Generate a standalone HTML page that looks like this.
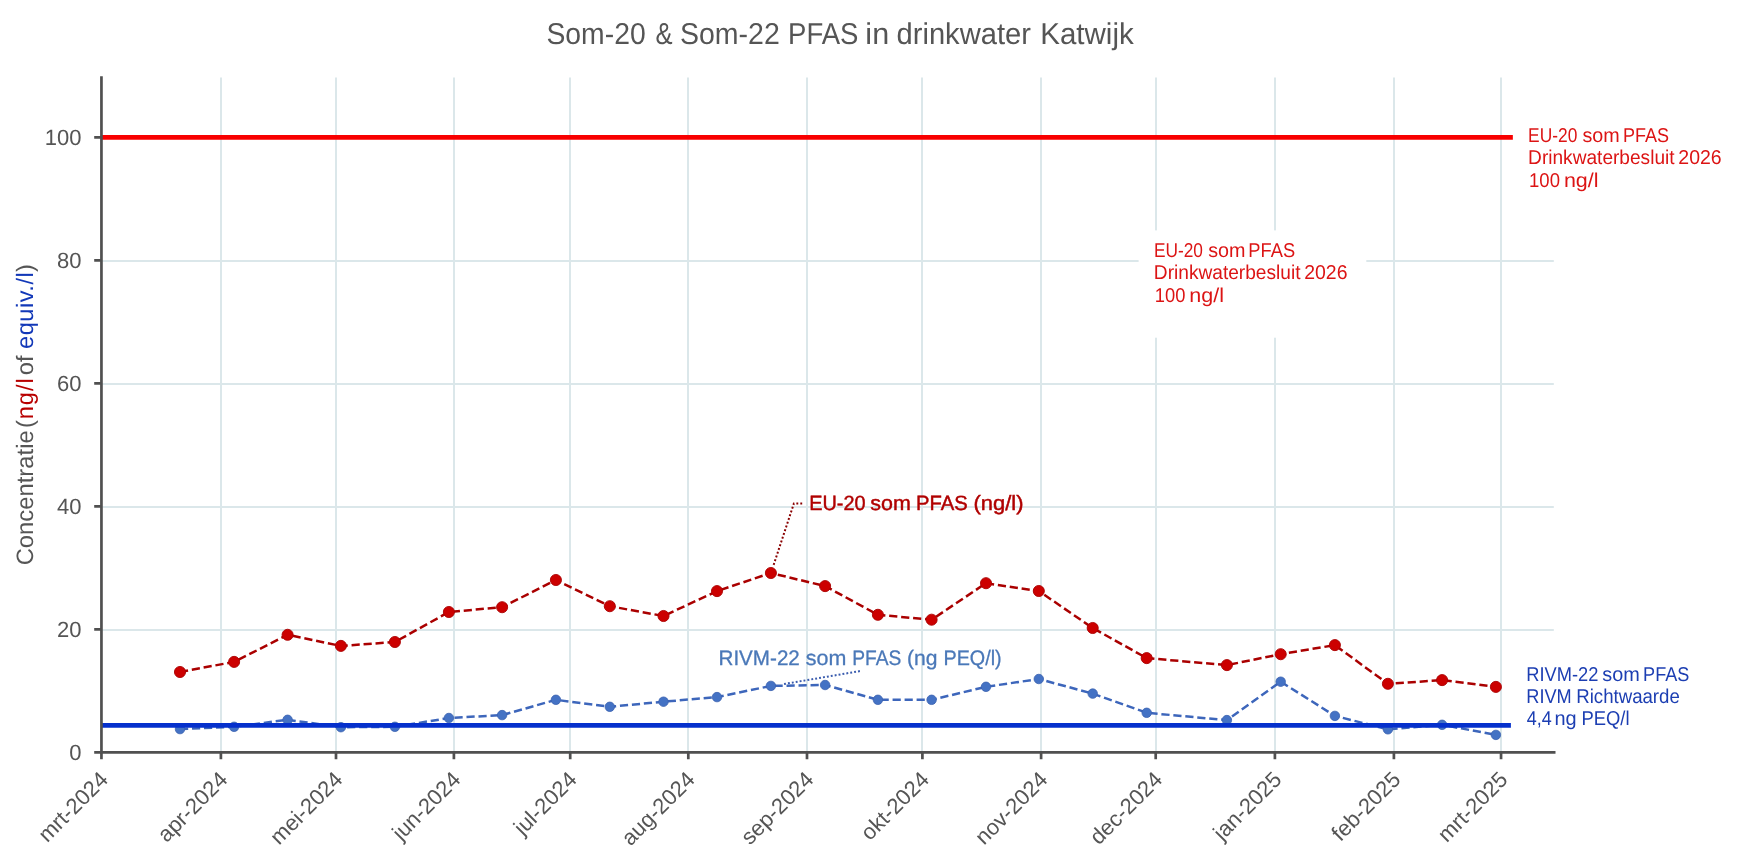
<!DOCTYPE html><html><head><meta charset="utf-8"><title>Som-20 &amp; Som-22 PFAS in drinkwater Katwijk</title>
<style>html,body{margin:0;padding:0;background:#fff;width:1740px;height:863px;overflow:hidden}svg{display:block;will-change:transform}text{font-family:"Liberation Sans", Arial, sans-serif;text-rendering:geometricPrecision}</style></head><body>
<svg width="1740" height="863" viewBox="0 0 1740 863">
<rect width="1740" height="863" fill="#fff"/>
<path d="M221 77.4V752 M336 77.4V752 M454 77.4V752 M570 77.4V752 M688 77.4V752 M807 77.4V752 M922 77.4V752 M1041 77.4V752 M1156 77.4V752 M1275 77.4V752 M1394 77.4V752 M1501 77.4V752 M101 630H1553.8 M101 507H1553.8 M101 384H1553.8 M101 261H1553.8" stroke="#dbe7ea" stroke-width="2" fill="none"/>
<rect x="1138.6" y="230.4" width="227.7" height="107.3" fill="#fff"/>
<path d="M101 137.4H1512.85" stroke="#f80000" stroke-width="4.75"/>
<polyline points="180.0,729.1 234.1,726.8 287.6,719.8 340.9,727.2 394.9,726.8 448.9,718.0 502.1,715.1 555.9,699.8 609.8,706.8 663.5,701.7 717.0,697.1 770.9,685.9 825.1,685.0 877.9,699.8 931.6,699.8 986.0,686.8 1038.8,679.0 1092.7,693.6 1146.7,712.8 1226.9,720.1 1280.7,681.7 1334.9,715.9 1387.9,729.3 1442.1,724.8 1495.9,734.9" fill="none" stroke="#3d66bb" stroke-width="2.5" stroke-dasharray="8.2,3.81"/>
<circle cx="180.0" cy="729.1" r="4.75" fill="#4472c4" stroke="#3b62b0" stroke-width="0.8"/>
<circle cx="234.1" cy="726.8" r="4.75" fill="#4472c4" stroke="#3b62b0" stroke-width="0.8"/>
<circle cx="287.6" cy="719.8" r="4.75" fill="#4472c4" stroke="#3b62b0" stroke-width="0.8"/>
<circle cx="340.9" cy="727.2" r="4.75" fill="#4472c4" stroke="#3b62b0" stroke-width="0.8"/>
<circle cx="394.9" cy="726.8" r="4.75" fill="#4472c4" stroke="#3b62b0" stroke-width="0.8"/>
<circle cx="448.9" cy="718.0" r="4.75" fill="#4472c4" stroke="#3b62b0" stroke-width="0.8"/>
<circle cx="502.1" cy="715.1" r="4.75" fill="#4472c4" stroke="#3b62b0" stroke-width="0.8"/>
<circle cx="555.9" cy="699.8" r="4.75" fill="#4472c4" stroke="#3b62b0" stroke-width="0.8"/>
<circle cx="609.8" cy="706.8" r="4.75" fill="#4472c4" stroke="#3b62b0" stroke-width="0.8"/>
<circle cx="663.5" cy="701.7" r="4.75" fill="#4472c4" stroke="#3b62b0" stroke-width="0.8"/>
<circle cx="717.0" cy="697.1" r="4.75" fill="#4472c4" stroke="#3b62b0" stroke-width="0.8"/>
<circle cx="770.9" cy="685.9" r="4.75" fill="#4472c4" stroke="#3b62b0" stroke-width="0.8"/>
<circle cx="825.1" cy="685.0" r="4.75" fill="#4472c4" stroke="#3b62b0" stroke-width="0.8"/>
<circle cx="877.9" cy="699.8" r="4.75" fill="#4472c4" stroke="#3b62b0" stroke-width="0.8"/>
<circle cx="931.6" cy="699.8" r="4.75" fill="#4472c4" stroke="#3b62b0" stroke-width="0.8"/>
<circle cx="986.0" cy="686.8" r="4.75" fill="#4472c4" stroke="#3b62b0" stroke-width="0.8"/>
<circle cx="1038.8" cy="679.0" r="4.75" fill="#4472c4" stroke="#3b62b0" stroke-width="0.8"/>
<circle cx="1092.7" cy="693.6" r="4.75" fill="#4472c4" stroke="#3b62b0" stroke-width="0.8"/>
<circle cx="1146.7" cy="712.8" r="4.75" fill="#4472c4" stroke="#3b62b0" stroke-width="0.8"/>
<circle cx="1226.9" cy="720.1" r="4.75" fill="#4472c4" stroke="#3b62b0" stroke-width="0.8"/>
<circle cx="1280.7" cy="681.7" r="4.75" fill="#4472c4" stroke="#3b62b0" stroke-width="0.8"/>
<circle cx="1334.9" cy="715.9" r="4.75" fill="#4472c4" stroke="#3b62b0" stroke-width="0.8"/>
<circle cx="1387.9" cy="729.3" r="4.75" fill="#4472c4" stroke="#3b62b0" stroke-width="0.8"/>
<circle cx="1442.1" cy="724.8" r="4.75" fill="#4472c4" stroke="#3b62b0" stroke-width="0.8"/>
<circle cx="1495.9" cy="734.9" r="4.75" fill="#4472c4" stroke="#3b62b0" stroke-width="0.8"/>
<path d="M101 725.3H1510.9" stroke="#0530cc" stroke-width="4.7"/>
<polyline points="180.0,672.0 234.1,661.9 287.6,634.8 340.9,645.9 394.9,642.0 448.9,612.0 502.1,607.2 555.9,580.0 609.8,606.2 663.5,616.0 717.0,591.1 770.9,573.0 825.1,586.1 877.9,614.8 931.6,619.7 986.0,583.2 1038.8,591.0 1092.7,628.0 1146.7,658.1 1226.9,665.1 1280.7,654.2 1334.9,645.1 1387.9,683.8 1442.1,680.1 1495.9,686.9" fill="none" stroke="#aa0000" stroke-width="2.5" stroke-dasharray="8.2,3.81"/>
<circle cx="180.0" cy="672.0" r="5.55" fill="#cc0000" stroke="#aa0000" stroke-width="0.9"/>
<circle cx="234.1" cy="661.9" r="5.55" fill="#cc0000" stroke="#aa0000" stroke-width="0.9"/>
<circle cx="287.6" cy="634.8" r="5.55" fill="#cc0000" stroke="#aa0000" stroke-width="0.9"/>
<circle cx="340.9" cy="645.9" r="5.55" fill="#cc0000" stroke="#aa0000" stroke-width="0.9"/>
<circle cx="394.9" cy="642.0" r="5.55" fill="#cc0000" stroke="#aa0000" stroke-width="0.9"/>
<circle cx="448.9" cy="612.0" r="5.55" fill="#cc0000" stroke="#aa0000" stroke-width="0.9"/>
<circle cx="502.1" cy="607.2" r="5.55" fill="#cc0000" stroke="#aa0000" stroke-width="0.9"/>
<circle cx="555.9" cy="580.0" r="5.55" fill="#cc0000" stroke="#aa0000" stroke-width="0.9"/>
<circle cx="609.8" cy="606.2" r="5.55" fill="#cc0000" stroke="#aa0000" stroke-width="0.9"/>
<circle cx="663.5" cy="616.0" r="5.55" fill="#cc0000" stroke="#aa0000" stroke-width="0.9"/>
<circle cx="717.0" cy="591.1" r="5.55" fill="#cc0000" stroke="#aa0000" stroke-width="0.9"/>
<circle cx="770.9" cy="573.0" r="5.55" fill="#cc0000" stroke="#aa0000" stroke-width="0.9"/>
<circle cx="825.1" cy="586.1" r="5.55" fill="#cc0000" stroke="#aa0000" stroke-width="0.9"/>
<circle cx="877.9" cy="614.8" r="5.55" fill="#cc0000" stroke="#aa0000" stroke-width="0.9"/>
<circle cx="931.6" cy="619.7" r="5.55" fill="#cc0000" stroke="#aa0000" stroke-width="0.9"/>
<circle cx="986.0" cy="583.2" r="5.55" fill="#cc0000" stroke="#aa0000" stroke-width="0.9"/>
<circle cx="1038.8" cy="591.0" r="5.55" fill="#cc0000" stroke="#aa0000" stroke-width="0.9"/>
<circle cx="1092.7" cy="628.0" r="5.55" fill="#cc0000" stroke="#aa0000" stroke-width="0.9"/>
<circle cx="1146.7" cy="658.1" r="5.55" fill="#cc0000" stroke="#aa0000" stroke-width="0.9"/>
<circle cx="1226.9" cy="665.1" r="5.55" fill="#cc0000" stroke="#aa0000" stroke-width="0.9"/>
<circle cx="1280.7" cy="654.2" r="5.55" fill="#cc0000" stroke="#aa0000" stroke-width="0.9"/>
<circle cx="1334.9" cy="645.1" r="5.55" fill="#cc0000" stroke="#aa0000" stroke-width="0.9"/>
<circle cx="1387.9" cy="683.8" r="5.55" fill="#cc0000" stroke="#aa0000" stroke-width="0.9"/>
<circle cx="1442.1" cy="680.1" r="5.55" fill="#cc0000" stroke="#aa0000" stroke-width="0.9"/>
<circle cx="1495.9" cy="686.9" r="5.55" fill="#cc0000" stroke="#aa0000" stroke-width="0.9"/>
<path d="M802.2 503.4H793.9L773.5 565.3" stroke="#8a0000" stroke-width="2" stroke-dasharray="1.9,2.05" fill="none"/>
<path d="M859.9 671.1L783.0 684.2" stroke="#3a5cae" stroke-width="2" stroke-dasharray="1.9,2.05" fill="none"/>
<path d="M101.45 76.3V753.8M100 752.45H1555.5" stroke="#505050" stroke-width="2.7" fill="none"/>
<path d="M94.2 752.45H101 M94.2 629.44H101 M94.2 506.43H101 M94.2 383.42H101 M94.2 260.41H101 M94.2 137.40H101 M101.45 752V759.2 M220.90 752V759.2 M336.00 752V759.2 M453.90 752V759.2 M570.20 752V759.2 M688.30 752V759.2 M807.00 752V759.2 M922.40 752V759.2 M1041.10 752V759.2 M1155.70 752V759.2 M1274.90 752V759.2 M1393.90 752V759.2 M1501.05 752V759.2" stroke="#505050" stroke-width="2.7" fill="none"/>
<g font-size="22" fill="#555555">
<text x="81.4" y="760.2" text-anchor="end">0</text>
<text x="81.4" y="637.2" text-anchor="end">20</text>
<text x="81.4" y="514.2" text-anchor="end">40</text>
<text x="81.4" y="391.2" text-anchor="end">60</text>
<text x="81.4" y="268.2" text-anchor="end">80</text>
<text x="81.4" y="145.2" text-anchor="end">100</text>
<text transform="translate(109.4,780.9) rotate(-45)" text-anchor="end">mrt-2024</text>
<text transform="translate(228.8,780.9) rotate(-45)" text-anchor="end">apr-2024</text>
<text transform="translate(343.9,780.9) rotate(-45)" text-anchor="end">mei-2024</text>
<text transform="translate(461.8,780.9) rotate(-45)" text-anchor="end">jun-2024</text>
<text transform="translate(578.1,780.9) rotate(-45)" text-anchor="end">jul-2024</text>
<text transform="translate(696.2,780.9) rotate(-45)" text-anchor="end">aug-2024</text>
<text transform="translate(814.9,780.9) rotate(-45)" text-anchor="end">sep-2024</text>
<text transform="translate(930.3,780.9) rotate(-45)" text-anchor="end">okt-2024</text>
<text transform="translate(1049.0,780.9) rotate(-45)" text-anchor="end">nov-2024</text>
<text transform="translate(1163.6,780.9) rotate(-45)" text-anchor="end">dec-2024</text>
<text transform="translate(1282.8,780.9) rotate(-45)" text-anchor="end">jan-2025</text>
<text transform="translate(1401.8,780.9) rotate(-45)" text-anchor="end">feb-2025</text>
<text transform="translate(1509.0,780.9) rotate(-45)" text-anchor="end">mrt-2025</text>
</g>
<g font-size="23.7">
<text transform="translate(33,565.3) rotate(-90)" fill="#555555" textLength="135.0">Concentratie</text>
<text transform="translate(33,428.0) rotate(-90)" fill="#555555">(</text>
<text transform="translate(33,419.3) rotate(-90)" fill="#b80000" textLength="41.2">ng/l</text>
<text transform="translate(33,375.2) rotate(-90)" fill="#555555">of</text>
<text transform="translate(33,349.0) rotate(-90)" fill="#1238b8" textLength="76.8">equiv./l</text>
<text transform="translate(33,272.0) rotate(-90)" fill="#555555">)</text>
</g>
<text x="546.47" y="43.8" font-size="30.2" fill="#555555" textLength="99.16" lengthAdjust="spacingAndGlyphs">Som-20</text>
<text x="655.52" y="43.8" font-size="30.2" fill="#555555" textLength="17.08" lengthAdjust="spacingAndGlyphs">&amp;</text>
<text x="679.96" y="43.8" font-size="30.2" fill="#555555" textLength="99.87" lengthAdjust="spacingAndGlyphs">Som-22</text>
<text x="788.09" y="43.8" font-size="30.2" fill="#555555" textLength="70.37" lengthAdjust="spacingAndGlyphs">PFAS</text>
<text x="865.39" y="43.8" font-size="30.2" fill="#555555" textLength="23.78" lengthAdjust="spacingAndGlyphs">in</text>
<text x="896.53" y="43.8" font-size="30.2" fill="#555555" textLength="134.39" lengthAdjust="spacingAndGlyphs">drinkwater</text>
<text x="1040.28" y="43.8" font-size="30.2" fill="#555555" textLength="93.46" lengthAdjust="spacingAndGlyphs">Katwijk</text>
<text x="809.25" y="509.8" font-size="20.6" fill="#b00000" stroke="#b00000" stroke-width="0.45" textLength="56.32" lengthAdjust="spacingAndGlyphs">EU-20</text>
<text x="870.32" y="509.8" font-size="20.6" fill="#b00000" stroke="#b00000" stroke-width="0.45" textLength="40.55" lengthAdjust="spacingAndGlyphs">som</text>
<text x="916.01" y="509.8" font-size="20.6" fill="#b00000" stroke="#b00000" stroke-width="0.45" textLength="51.70" lengthAdjust="spacingAndGlyphs">PFAS</text>
<text x="973.54" y="509.8" font-size="20.6" fill="#b00000" stroke="#b00000" stroke-width="0.45" textLength="49.96" lengthAdjust="spacingAndGlyphs">(ng/l)</text>
<text x="718.51" y="664.8" font-size="21.0" fill="#4a78b8" stroke="#4a78b8" stroke-width="0.3" textLength="81.31" lengthAdjust="spacingAndGlyphs">RIVM-22</text>
<text x="805.75" y="664.8" font-size="21.0" fill="#4a78b8" stroke="#4a78b8" stroke-width="0.3" textLength="40.57" lengthAdjust="spacingAndGlyphs">som</text>
<text x="852.21" y="664.8" font-size="21.0" fill="#4a78b8" stroke="#4a78b8" stroke-width="0.3" textLength="49.07" lengthAdjust="spacingAndGlyphs">PFAS</text>
<text x="907.00" y="664.8" font-size="21.0" fill="#4a78b8" stroke="#4a78b8" stroke-width="0.3" textLength="30.48" lengthAdjust="spacingAndGlyphs">(ng</text>
<text x="943.50" y="664.8" font-size="21.0" fill="#4a78b8" stroke="#4a78b8" stroke-width="0.3" textLength="58.18" lengthAdjust="spacingAndGlyphs">PEQ/l)</text>
<text x="1528.11" y="141.7" font-size="20.0" fill="#dc1414" textLength="49.18" lengthAdjust="spacingAndGlyphs">EU-20</text>
<text x="1582.42" y="141.7" font-size="20.0" fill="#dc1414" textLength="37.27" lengthAdjust="spacingAndGlyphs">som</text>
<text x="1622.93" y="141.7" font-size="20.0" fill="#dc1414" textLength="46.10" lengthAdjust="spacingAndGlyphs">PFAS</text>
<text x="1528.10" y="163.8" font-size="20.0" fill="#dc1414" textLength="146.48" lengthAdjust="spacingAndGlyphs">Drinkwaterbesluit</text>
<text x="1678.37" y="163.8" font-size="20.0" fill="#dc1414" textLength="43.32" lengthAdjust="spacingAndGlyphs">2026</text>
<text x="1529.08" y="186.7" font-size="20.0" fill="#dc1414" textLength="30.89" lengthAdjust="spacingAndGlyphs">100</text>
<text x="1563.91" y="186.7" font-size="20.0" fill="#dc1414" textLength="34.59" lengthAdjust="spacingAndGlyphs">ng/l</text>
<text x="1153.95" y="256.5" font-size="20.0" fill="#dc1414" textLength="49.01" lengthAdjust="spacingAndGlyphs">EU-20</text>
<text x="1208.26" y="256.5" font-size="20.0" fill="#dc1414" textLength="37.30" lengthAdjust="spacingAndGlyphs">som</text>
<text x="1248.36" y="256.5" font-size="20.0" fill="#dc1414" textLength="46.73" lengthAdjust="spacingAndGlyphs">PFAS</text>
<text x="1153.87" y="278.6" font-size="20.0" fill="#dc1414" textLength="146.58" lengthAdjust="spacingAndGlyphs">Drinkwaterbesluit</text>
<text x="1304.22" y="278.6" font-size="20.0" fill="#dc1414" textLength="43.25" lengthAdjust="spacingAndGlyphs">2026</text>
<text x="1154.81" y="301.5" font-size="20.0" fill="#dc1414" textLength="30.61" lengthAdjust="spacingAndGlyphs">100</text>
<text x="1189.38" y="301.5" font-size="20.0" fill="#dc1414" textLength="34.67" lengthAdjust="spacingAndGlyphs">ng/l</text>
<text x="1526.25" y="680.7" font-size="20.0" fill="#1c3eb2" textLength="72.09" lengthAdjust="spacingAndGlyphs">RIVM-22</text>
<text x="1602.37" y="680.7" font-size="20.0" fill="#1c3eb2" textLength="37.53" lengthAdjust="spacingAndGlyphs">som</text>
<text x="1643.11" y="680.7" font-size="20.0" fill="#1c3eb2" textLength="46.25" lengthAdjust="spacingAndGlyphs">PFAS</text>
<text x="1526.34" y="702.6" font-size="20.0" fill="#1c3eb2" textLength="45.40" lengthAdjust="spacingAndGlyphs">RIVM</text>
<text x="1576.28" y="702.6" font-size="20.0" fill="#1c3eb2" textLength="103.52" lengthAdjust="spacingAndGlyphs">Richtwaarde</text>
<text x="1526.67" y="725.4" font-size="20.0" fill="#1c3eb2" textLength="25.00" lengthAdjust="spacingAndGlyphs">4,4</text>
<text x="1554.48" y="725.4" font-size="20.0" fill="#1c3eb2" textLength="22.17" lengthAdjust="spacingAndGlyphs">ng</text>
<text x="1581.47" y="725.4" font-size="20.0" fill="#1c3eb2" textLength="48.13" lengthAdjust="spacingAndGlyphs">PEQ/l</text>
</svg></body></html>
